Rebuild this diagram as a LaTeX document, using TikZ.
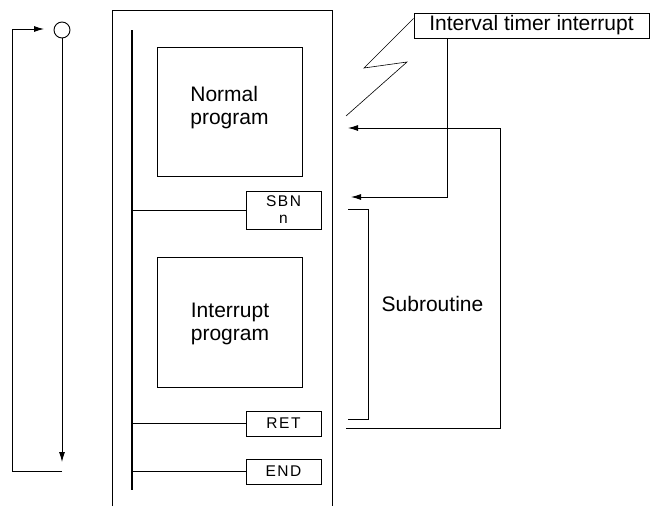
\documentclass[tikz,border=0pt]{standalone}
\usepackage{fontspec}
\setmainfont{Liberation Sans}
\usetikzlibrary{arrows.meta}
\newfontfamily\smallsp[LetterSpace=10]{Liberation Sans}
\begin{document}
\begin{tikzpicture}[x=1pt,y=-1pt,
  line width=0.9pt,
  arr/.style={-{Latex[length=10pt,width=6pt]}},
  bigbox/.style={draw,minimum width=145pt,minimum height=129pt,inner sep=0pt},
  instr/.style={draw,minimum width=75pt,inner sep=0pt,font=\fontsize{15.5}{17}\smallsp},
  lbl/.style={font=\fontsize{21}{23}\selectfont,align=left,inner sep=0pt}]
\useasboundingbox (0,0) rectangle (650,506);
% panel
\draw[line width=0.6pt] (112,506) -- (112,10) -- (332,10) -- (332,506);
% rail
\coordinate (rtop) at (132,30);
\coordinate (rbot) at (132,490);
\draw[line width=1.1pt] (rtop) -- (rbot);
% program boxes
\node[bigbox] (normal) at (229.5,111.5) {};
\node[lbl] (normaltxt) at (229.5,108) {Normal\\program};
\node[bigbox,minimum height=130pt] (intr) at (229.5,322) {};
\node[lbl] (intrtxt) at (230,324) {Interrupt\\program};
% instructions
\node[instr,minimum height=38pt,align=center] (sbn) at (283.5,210) {SBN\\n};
\node[instr,minimum height=25pt] (ret) at (283.5,423.5) {RET};
\node[instr,minimum height=25pt] (endn) at (283.5,471.5) {END};
\draw (rtop |- sbn.west) -- (sbn.west);
\draw (rtop |- ret.west) -- (ret.west);
\draw (rtop |- endn.west) -- (endn.west);
% left loop
\node[draw,circle,minimum size=16pt,inner sep=0pt] (circ) at (62,30) {};
\coordinate (downtip) at (62,462);
\coordinate (loopend) at (62,471);
\coordinate (loopleft) at (12,29);
\coordinate (looptip) at (44,29);
\draw[arr] (circ.south) -- (downtip);
\draw[arr] (loopend) -| (loopleft) -- (looptip);
% timer interrupt
\node[draw,minimum width=235pt,minimum height=25pt,inner sep=0pt,font=\fontsize{21}{23}\selectfont] (timer) at (531.5,25.5) {Interval timer interrupt};
\coordinate (z1) at (364,68);
\coordinate (z2) at (407,62);
\coordinate (z3) at (346,116);
\draw[line width=0.6pt] ([yshift=7pt]timer.west) -- (z1) -- (z2) -- (z3);
\coordinate (tx) at (447,0);
\coordinate (sbntip) at (351,197);
\draw[arr] (timer.south -| tx) |- (sbntip);
% return arrow
\coordinate (retstart) at (346,428);
\coordinate (retcorner) at (500,128);
\coordinate (rettip) at (348,128);
\draw[arr] (retstart) -| (retcorner) -- (rettip);
% subroutine bracket
\coordinate (b1) at (348,209);
\coordinate (b2) at (368,209);
\coordinate (b3) at (368,419);
\coordinate (b4) at (348,419);
\draw (b1) -- (b2) -- (b3) -- (b4);
\node[lbl] (sub) at (432.5,304) {Subroutine};
\end{tikzpicture}
\end{document}
